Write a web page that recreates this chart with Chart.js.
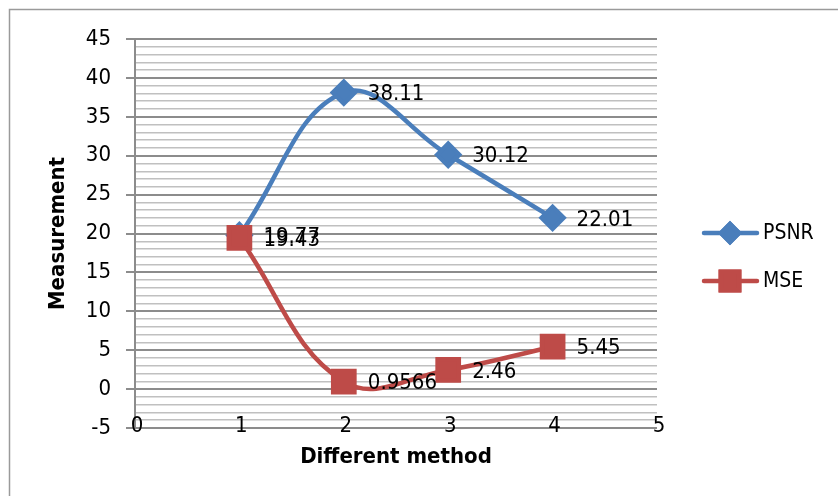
<!DOCTYPE html>
<html>
<head>
<meta charset="utf-8">
<script src="https://cdn.jsdelivr.net/npm/chart.js@4/dist/chart.umd.min.js"></script>
<style>
  html, body { margin: 0; padding: 0; background: #fff; }
  #wrap { width: 838px; height: 496px; position: relative; }
</style>
</head>
<body>
<div id="wrap"><canvas id="c"></canvas></div>
<script>
// PSNR / MSE per method — Excel-style smoothed scatter
const methods = [1, 2, 3, 4];
const psnrValues = [19.77, 38.11, 30.12, 22.01];
const mseValues = [19.43, 0.9566, 2.46, 5.45];
const seriesNames = ['PSNR', 'MSE'];

const FONT = '"Liberation Sans Narrow", "DejaVu Sans Condensed", "Liberation Sans", sans-serif';
const BLUE = '#4a7ebb';
const RED = '#be4b48';

function toPoints(xs, ys) {
    return xs.map((x, i) => ({ x: x, y: ys[i] }));
}

// value labels to the right of each marker
const valueLabels = {
    id: 'valueLabels',
    afterDatasetsDraw(chart) {
        const ctx = chart.ctx;
        ctx.save();
        ctx.font = '22px ' + FONT;
        ctx.fillStyle = '#000';
        ctx.textBaseline = 'middle';
        ctx.textAlign = 'left';
        chart.data.datasets.forEach((ds, i) => {
            const meta = chart.getDatasetMeta(i);
            meta.data.forEach((pt, j) => {
                ctx.fillText(String(ds.data[j].y), pt.x + 24, pt.y + 2);
            });
        });
        ctx.restore();
    }
};

// x tick labels sit on the bottom gridline, like the Excel original
const xTickLabels = {
    id: 'xTickLabels',
    afterDraw(chart) {
        const sx = chart.scales.x;
        const ctx = chart.ctx;
        ctx.save();
        ctx.font = '22px ' + FONT;
        ctx.fillStyle = '#000';
        ctx.textBaseline = 'middle';
        ctx.textAlign = 'center';
        sx.ticks.forEach(t => {
            ctx.fillText(String(t.value), sx.getPixelForValue(t.value) + 2, chart.chartArea.bottom - 2);
        });
        ctx.restore();
    }
};

// outer chart border + legend with line-through markers
const frameAndLegend = {
    id: 'frameAndLegend',
    beforeDraw(chart) {
        const ctx = chart.ctx;
        ctx.save();
        ctx.strokeStyle = '#9a9a9a';
        ctx.lineWidth = 1.5;
        ctx.strokeRect(9.5, 9.5, 900, 600);
        ctx.restore();
    },
    afterDraw(chart) {
        const ctx = chart.ctx;
        const rows = [233, 281];
        ctx.save();
        chart.data.datasets.forEach((ds, i) => {
            const y = rows[i];
            ctx.strokeStyle = ds.borderColor;
            ctx.lineWidth = 4.5;
            ctx.lineCap = 'round';
            ctx.beginPath();
            ctx.moveTo(704, y);
            ctx.lineTo(757, y);
            ctx.stroke();
            Chart.helpers.drawPoint(ctx, {
                pointStyle: ds.pointStyle,
                radius: i === 0 ? 9 : 13,
                rotation: 0,
                borderWidth: 1
            }, 730, y);
            ctx.fillStyle = ds.backgroundColor;
            ctx.strokeStyle = ds.borderColor;
            ctx.fill();
            ctx.stroke();
            ctx.fillStyle = '#000';
            ctx.font = '21px ' + FONT;
            ctx.textBaseline = 'middle';
            ctx.textAlign = 'left';
            ctx.fillText(ds.label, 763, y + 1);
        });
        ctx.restore();
    }
};

new Chart(document.getElementById('c').getContext('2d'), {
    type: 'scatter',
    data: {
        datasets: [
            {
                label: seriesNames[0],
                data: toPoints(methods, psnrValues),
                showLine: true,
                borderColor: BLUE,
                backgroundColor: BLUE,
                borderWidth: 4.5,
                tension: 0.4,
                pointStyle: 'rectRot',
                pointRadius: 11,
                pointHoverRadius: 11,
                order: 2
            },
            {
                label: seriesNames[1],
                data: toPoints(methods, mseValues),
                showLine: true,
                borderColor: RED,
                backgroundColor: RED,
                borderWidth: 4.5,
                tension: 0.4,
                pointStyle: 'rect',
                pointRadius: 15,
                pointHoverRadius: 15,
                order: 1
            }
        ]
    },
    options: {
        responsive: true,
        maintainAspectRatio: false,
        animation: false,
        layout: { padding: { left: 0, right: 181, top: 39, bottom: 0 } },
        plugins: {
            legend: { display: false },
            tooltip: { enabled: false }
        },
        scales: {
            x: {
                type: 'linear',
                min: 0,
                max: 5,
                afterFit: s => { s.height = 68; },
                grid: { display: false, drawTicks: false },
                border: { display: false },
                ticks: {
                    stepSize: 1,
                    display: false
                },
                title: {
                    display: true,
                    text: 'Different method',
                    color: '#000',
                    font: { family: FONT, size: 22, weight: 'bold' },
                    padding: { top: 0, bottom: 26 }
                }
            },
            y: {
                type: 'linear',
                min: -5,
                max: 45,
                afterFit: s => { s.width = 135; },
                border: { display: true, color: '#8c8c8c', width: 2 },
                grid: {
                    color: c => (c.tick.value % 5 === 0 ? '#8c8c8c' : '#c0c0c0'),
                    lineWidth: c => (c.tick.value % 5 === 0 ? 2 : 1.5),
                    tickColor: c => (c.tick.value % 5 === 0 ? '#8c8c8c' : 'rgba(0,0,0,0)'),
                    tickLength: 9
                },
                ticks: {
                    stepSize: 1,
                    autoSkip: false,
                    color: '#000',
                    padding: 15,
                    font: { family: FONT, size: 22 },
                    callback: v => (v % 5 === 0 ? String(v) : '')
                },
                title: {
                    display: true,
                    text: 'Measurement',
                    color: '#000',
                    font: { family: FONT, size: 22, weight: 'bold' },
                    padding: { top: 45, bottom: 0 }
                }
            }
        }
    },
    plugins: [frameAndLegend, valueLabels, xTickLabels]
});
</script>
</body>
</html>
